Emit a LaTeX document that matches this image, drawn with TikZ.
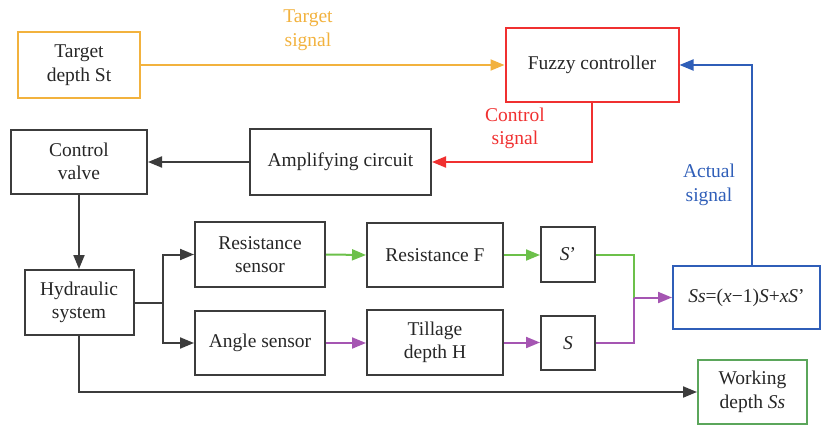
\documentclass[tikz,border=0pt]{standalone}
\usepackage{fontspec}
\setmainfont{Liberation Serif}
\usetikzlibrary{arrows.meta,calc}
\definecolor{cgray}{HTML}{3C3C3C}
\definecolor{corange}{HTML}{F2B23E}
\definecolor{cred}{HTML}{F03030}
\definecolor{cblue}{HTML}{2F5EB8}
\definecolor{cgreen}{HTML}{6CC04A}
\definecolor{cgreenbox}{HTML}{5BA65B}
\definecolor{cpurple}{HTML}{A555B2}
\definecolor{ctext}{HTML}{262626}
\begin{document}
\begin{tikzpicture}[x=1pt,y=-1pt,
  box/.style={draw=cgray,line width=2pt,rectangle,inner sep=0pt,align=center,text=ctext,font=\fontsize{19.5}{23.5}\selectfont},
  lbl/.style={align=center,font=\fontsize{19.5}{23.5}\selectfont},
  arr/.style={line width=2pt,-{Triangle[length=14pt,width=11pt]}},
  ln/.style={line width=2pt}]
\useasboundingbox (0,0) rectangle (821,425);
\node[box,draw=corange,minimum width=122pt,minimum height=66pt] (target) at (79,65) {Target\\depth St};
\node[box,draw=cred,minimum width=173pt,minimum height=74pt] (fuzzy) at (592,65) {Fuzzy controller};
\node[box,minimum width=181pt,minimum height=66pt] (amp) at (340.5,162) {Amplifying circuit};
\node[box,minimum width=136pt,minimum height=64pt] (valve) at (79,161.5) {Control\\valve};
\node[box,minimum width=109pt,minimum height=65pt] (hyd) at (79,302.5) {Hydraulic\\system};
\node[box,minimum width=130pt,minimum height=65pt] (rsens) at (260,254.5) {Resistance\\sensor};
\node[box,minimum width=130pt,minimum height=64pt] (asens) at (260,343) {Angle sensor};
\node[box,minimum width=136pt,minimum height=64pt] (resF) at (435,255) {Resistance F};
\node[box,minimum width=136pt,minimum height=65pt] (till) at (435,342.5) {Tillage\\depth H};
\node[box,minimum width=54pt,minimum height=55pt] (Sp) at (568,254.5) {\textit{S}'};
\node[box,minimum width=54pt,minimum height=54pt] (S) at (568,343) {\textit{S}};
\node[box,draw=cblue,minimum width=147pt,minimum height=63pt] (form) at (746.5,297.5) {\textit{Ss}=(\textit{x}−1)\textit{S}+\textit{xS}'};
\node[box,draw=cgreenbox,minimum width=109pt,minimum height=64pt] (work) at (752.5,392) {Working\\depth \textit{Ss}};
\coordinate (br) at (163,302.5);
\coordinate (mg) at (634,297.5);
% labels
\node[lbl,text=corange] (tsig) at (308,30) {Target\\signal};
\node[lbl,text=cred] (csig) at (515,128.5) {Control\\signal};
\node[lbl,text=cblue] (asig) at (709,185) {Actual\\signal};
% connectors
\draw[arr,corange] (target.east) -- (fuzzy.west);
\draw[arr,cred] (fuzzy.south) |- (amp.east);
\draw[arr,cblue] ([xshift=5.5pt]form.north) |- (fuzzy.east);
\draw[arr,cgray] (amp.west) -- (amp.west -| valve.east);
\draw[arr,cgray] (valve.south) -- (hyd.north);
\draw[ln,cgray] (hyd.east) -- (br);
\draw[arr,cgray] (br) |- (rsens.west);
\draw[arr,cgray] (br) |- (asens.west);
\draw[arr,cgray] (hyd.south) |- (work.west);
\draw[arr,cgreen] (rsens.east) -- (resF.west);
\draw[arr,cgreen] (resF.east) -- (resF.east -| Sp.west);
\draw[ln,cgreen] (Sp.east) -| (mg);
\draw[ln,cpurple] (S.east) -| (mg);
\draw[arr,cpurple] (asens.east) -- (asens.east -| till.west);
\draw[arr,cpurple] (till.east) -- (till.east -| S.west);
\draw[arr,cpurple] (mg) -- (form.west);
\end{tikzpicture}
\end{document}
